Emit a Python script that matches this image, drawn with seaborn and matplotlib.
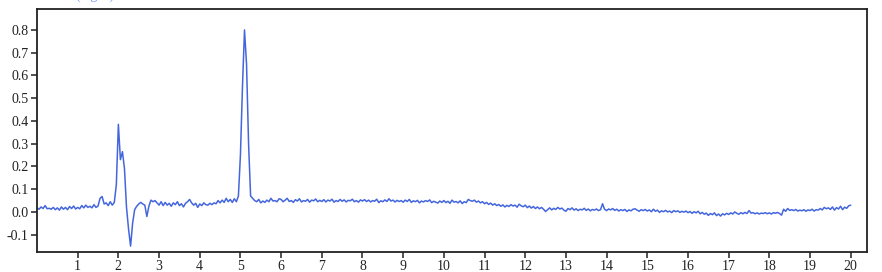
import numpy as np
import pandas as pd
import matplotlib
matplotlib.use("Agg")
import matplotlib.pyplot as plt
import seaborn as sns

# sampling grid (minutes), 0.05 step
time_min = np.round(np.linspace(0, 20, 401), 2)

# detector signal, 20 samples per minute
sig_00 = [0.018, 0.012, 0.022, 0.015, 0.028, 0.014, 0.016, 0.012, 0.020, 0.010,
          0.018, 0.008, 0.022, 0.012, 0.020, 0.010, 0.024, 0.015, 0.026, 0.013]
sig_01 = [0.020, 0.014, 0.028, 0.018, 0.030, 0.020, 0.025, 0.018, 0.032, 0.020,
          0.026, 0.060, 0.068, 0.035, 0.040, 0.028, 0.045, 0.030, 0.042, 0.120]
sig_02 = [0.385, 0.230, 0.265, 0.190, 0.020, -0.075, -0.150, -0.050, 0.010, 0.025,
          0.035, 0.042, 0.035, 0.030, -0.020, 0.025, 0.052, 0.045, 0.050, 0.040]
sig_03 = [0.030, 0.045, 0.028, 0.042, 0.030, 0.038, 0.025, 0.040, 0.032, 0.045,
          0.028, 0.036, 0.022, 0.038, 0.045, 0.055, 0.040, 0.030, 0.038, 0.020]
sig_04 = [0.035, 0.028, 0.040, 0.032, 0.030, 0.038, 0.032, 0.040, 0.036, 0.050,
          0.040, 0.052, 0.042, 0.060, 0.045, 0.055, 0.042, 0.058, 0.045, 0.070]
sig_05 = [0.250, 0.550, 0.800, 0.650, 0.300, 0.070, 0.060, 0.050, 0.045, 0.055,
          0.040, 0.048, 0.042, 0.052, 0.045, 0.060, 0.048, 0.050, 0.045, 0.058]
sig_06 = [0.055, 0.045, 0.052, 0.060, 0.046, 0.050, 0.042, 0.054, 0.048, 0.058,
          0.044, 0.050, 0.047, 0.055, 0.043, 0.052, 0.049, 0.057, 0.045, 0.051]
sig_07 = [0.046, 0.054, 0.044, 0.052, 0.048, 0.056, 0.043, 0.050, 0.046, 0.055,
          0.047, 0.053, 0.044, 0.051, 0.049, 0.056, 0.045, 0.050, 0.043, 0.053]
sig_08 = [0.048, 0.054, 0.046, 0.052, 0.044, 0.050, 0.047, 0.056, 0.041, 0.049,
          0.045, 0.053, 0.046, 0.058, 0.048, 0.052, 0.044, 0.051, 0.046, 0.050]
sig_09 = [0.043, 0.052, 0.046, 0.055, 0.042, 0.049, 0.045, 0.051, 0.040, 0.048,
          0.044, 0.050, 0.046, 0.053, 0.041, 0.047, 0.043, 0.039, 0.048, 0.042]
sig_10 = [0.050, 0.041, 0.047, 0.038, 0.052, 0.043, 0.046, 0.040, 0.049, 0.037,
          0.045, 0.041, 0.055, 0.050, 0.047, 0.052, 0.043, 0.048, 0.040, 0.045]
sig_11 = [0.036, 0.042, 0.033, 0.039, 0.030, 0.036, 0.028, 0.033, 0.025, 0.031,
          0.022, 0.029, 0.024, 0.032, 0.026, 0.030, 0.021, 0.034, 0.027, 0.023]
sig_12 = [0.030, 0.019, 0.026, 0.017, 0.024, 0.015, 0.022, 0.014, 0.020, 0.012,
          0.002, 0.010, 0.018, 0.009, 0.016, 0.011, 0.020, 0.013, 0.017, 0.008]
sig_13 = [0.003, 0.015, 0.010, 0.018, 0.008, 0.014, 0.006, 0.012, 0.009, 0.016,
          0.007, 0.013, 0.005, 0.011, 0.008, 0.013, 0.006, 0.010, 0.036, 0.012]
sig_14 = [0.006, 0.013, 0.009, 0.015, 0.007, 0.012, 0.004, 0.010, 0.006, 0.011,
          0.002, 0.009, 0.005, 0.012, 0.014, 0.008, 0.003, 0.010, 0.006, 0.011]
sig_15 = [0.004, 0.009, 0.001, 0.012, 0.003, 0.008, -0.002, 0.005, 0.001, 0.007,
          0.000, 0.004, -0.003, 0.006, 0.001, 0.005, -0.002, 0.003, -0.001, 0.004]
sig_16 = [-0.003, 0.002, -0.006, 0.001, -0.004, 0.003, -0.008, -0.002, -0.010, -0.005,
          -0.015, -0.007, -0.012, -0.004, -0.016, -0.009, -0.018, -0.008, -0.013, -0.006]
sig_17 = [-0.011, -0.004, -0.009, 0.000, -0.006, -0.010, -0.003, -0.008, -0.002, -0.007,
          0.006, -0.005, -0.003, -0.008, -0.004, -0.009, -0.005, -0.007, -0.003, -0.008]
sig_18 = [-0.004, -0.009, -0.003, -0.006, -0.002, -0.007, -0.014, 0.012, 0.003, 0.015,
          0.007, 0.010, 0.006, 0.011, 0.004, 0.008, 0.005, 0.010, 0.003, 0.009]
sig_19 = [0.006, 0.012, 0.004, 0.010, 0.008, 0.015, 0.009, 0.020, 0.014, 0.018,
          0.011, 0.022, 0.008, 0.019, 0.013, 0.025, 0.010, 0.021, 0.016, 0.027]
sig_20 = [0.030]

signal = (sig_00 + sig_01 + sig_02 + sig_03 + sig_04 + sig_05 + sig_06 + sig_07
          + sig_08 + sig_09 + sig_10 + sig_11 + sig_12 + sig_13 + sig_14 + sig_15
          + sig_16 + sig_17 + sig_18 + sig_19 + sig_20)

x_ticks = list(range(1, 21))
x_tick_labels = [str(v) for v in x_ticks]
y_ticks = [-0.1, 0.0, 0.1, 0.2, 0.3, 0.4, 0.5, 0.6, 0.7, 0.8]
y_tick_labels = ["-0.1", "0.0", "0.1", "0.2", "0.3", "0.4", "0.5", "0.6", "0.7", "0.8"]
unit_label = "(mg/L)"

df = pd.DataFrame({"time": time_min, "signal": signal})

sns.set_style("ticks")
plt.rcParams["font.family"] = ["Liberation Serif", "DejaVu Serif"]

fig = plt.figure(figsize=(8.82, 2.72), dpi=100)
ax = fig.add_axes([37 / 882, 20 / 272, 830 / 882, 243 / 272])

sns.lineplot(data=df, x="time", y="signal", ax=ax, color="#4466dd", linewidth=1.1)

ax.set_xlim(0, 20.4)
ax.set_ylim(-0.176, 0.892)
ax.set_xticks(x_ticks)
ax.set_xticklabels(x_tick_labels)
ax.set_yticks(y_ticks)
ax.set_yticklabels(y_tick_labels)
ax.set_xlabel("")
ax.set_ylabel("")
ax.tick_params(axis="both", direction="out", length=4, width=1.1, color="#222222",
               labelsize=10, pad=2, labelcolor="#222222")
for s in ax.spines.values():
    s.set_visible(True)
    s.set_linewidth(1.3)
    s.set_color("#222222")

# unit label sits mostly above the canvas in the reference; only its lower edge shows
fig.text(75 / 882, 1.0 + 1.5 / 272, unit_label, color="#7b9cf5", fontsize=10,
         ha="left", va="baseline")

fig.savefig("out.png", dpi=100, facecolor="white")
